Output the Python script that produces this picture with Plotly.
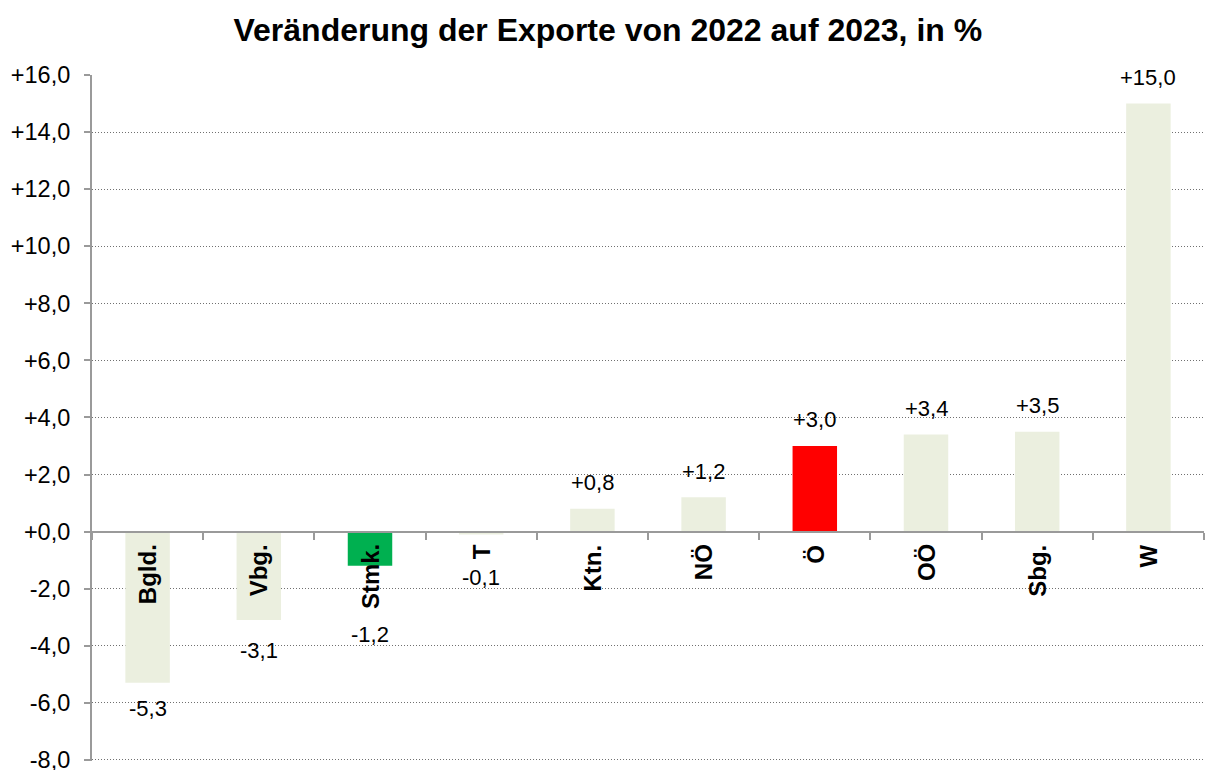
import plotly.graph_objects as go

categories = ["Bgld.", "Vbg.", "Stmk.", "T", "Ktn.", "NÖ", "Ö", "OÖ", "Sbg.", "W"]
values = [-5.3, -3.1, -1.2, -0.1, 0.8, 1.2, 3.0, 3.4, 3.5, 15.0]
y_ticks = [-8, -6, -4, -2, 0, 2, 4, 6, 8, 10, 12, 14, 16]
title_text = "Veränderung der Exporte von 2022 auf 2023, in %"

BEIGE = "#EBEFDF"
special_colors = {"Stmk.": "#00B050", "Ö": "#FF0000"}
label_shift = {"Vbg.": 30, "Stmk.": 69, "T": 43}  # px, manual label offsets

def fmt(v):
    return f"{v:+.1f}".replace(".", ",")

colors = [special_colors.get(c, BEIGE) for c in categories]

fig = go.Figure()
fig.add_trace(go.Bar(
    x=categories, y=values, marker=dict(color=colors, line=dict(width=0)),
    hoverinfo="skip", showlegend=False,
))

FONT = "Liberation Sans, Arial, sans-serif"

for c, v in zip(categories, values):
    sh = label_shift.get(c, 26)
    fig.add_annotation(
        x=c, y=v, text=fmt(v), showarrow=False,
        xanchor="center", yanchor="middle",
        yshift=sh if v >= 0 else -sh,
        font=dict(family=FONT, size=22, color="black"),
    )
    fig.add_annotation(
        x=c, y=0, text=f"<b>{c}</b>", showarrow=False, textangle=-90,
        xanchor="center", yanchor="top", yshift=-11,
        font=dict(family=FONT, size=24, color="black"),
    )

fig.update_layout(
    width=1206, height=770,
    margin=dict(l=92, r=2, t=75, b=9, autoexpand=False),
    paper_bgcolor="white", plot_bgcolor="white",
    bargap=0.6,
    title=dict(text=f"<b>{title_text}</b>", x=0.504, xanchor="center",
               y=0.961, yanchor="middle",
               font=dict(family=FONT, size=32, color="black")),
    font=dict(family=FONT, size=22, color="black"),
)

fig.update_yaxes(
    range=[-8.04, 16], tickvals=y_ticks, ticktext=[fmt(t) for t in y_ticks],
    showgrid=True, gridcolor="#707070", gridwidth=1, griddash="1px,2px",
    zeroline=False, showline=True, linecolor="#9A9A9A", linewidth=2,
    ticks="outside", ticklen=6, tickcolor="#9A9A9A", tickwidth=1.5,
    tickfont=dict(family=FONT, size=23.5, color="black"), ticklabelstandoff=9,
    ticklabeloverflow="allow", automargin=False,
)
fig.update_xaxes(
    anchor="free", position=8.04 / 24.04, showline=True, linecolor="#9A9A9A", linewidth=2,
    ticks="outside", tickson="boundaries", ticklen=7, tickcolor="#9A9A9A", tickwidth=1.5,
    showticklabels=False, showgrid=False, automargin=False,
)

fig.write_html("out.html", config={"displayModeBar": False},
               post_script="document.body.style.margin='0px';")
